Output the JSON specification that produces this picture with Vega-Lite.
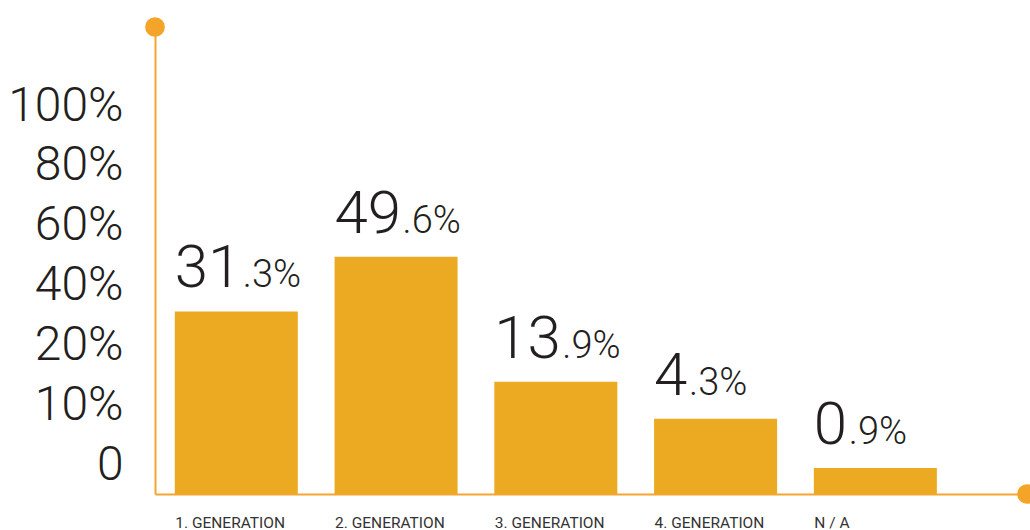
{
  "$schema": "https://vega.github.io/schema/vega-lite/v6.json",
  "width": 872,
  "height": 467,
  "autosize": {"type": "none"},
  "padding": {"left": 155, "top": 27, "right": 3, "bottom": 36},
  "background": "white",
  "config": {"view": {"stroke": null}},
  "layer": [
    {
      "data": {"name": "shares", "values": [
        {"gen": "1. GENERATION", "value": 31.3},
        {"gen": "2. GENERATION", "value": 49.6},
        {"gen": "3. GENERATION", "value": 13.9},
        {"gen": "4. GENERATION", "value": 4.3},
        {"gen": "N / A", "value": 0.9}
      ]},
      "transform": [
        {"calculate": "split(format(datum.value, '.1f'), '.')[0]", "as": "intPart"},
        {"calculate": "'.' + split(format(datum.value, '.1f'), '.')[1] + '%'", "as": "decPart"},
        {"calculate": "length(datum.intPart)", "as": "nDigits"}
      ],
      "encoding": {
        "x": {
          "field": "gen", "type": "nominal", "sort": null,
          "scale": {"paddingInner": 0.23, "paddingOuter": 0.344, "align": 0.18},
          "axis": {
            "title": null, "ticks": false, "grid": false,
            "domainColor": "#F5A531", "domainWidth": 2,
            "labelAlign": "left", "labelAngle": 0, "labelOffset": -61,
            "labelPadding": 21, "labelFont": "Roboto", "labelFontSize": 15.5,
            "labelFontWeight": 400, "labelColor": "#333333",
            "labelBound": false, "labelOverlap": false
          }
        },
        "y": {
          "field": "value", "type": "quantitative",
          "scale": {
            "type": "linear", "nice": false, "zero": false,
            "domain": [0, 1, 5, 10, 20, 40, 60, 80, 100, 126.3],
            "range": [467, 438, 382, 378, 318.2, 258.4, 198.6, 138.8, 79, 0]
          },
          "axis": {
            "title": null, "ticks": false, "grid": false,
            "values": [0, 10, 20, 40, 60, 80, 100],
            "labelExpr": "datum.value === 0 ? '0' : datum.value + '%'",
            "domainColor": "#F5A531", "domainWidth": 2,
            "labelFont": "Roboto", "labelFontWeight": 300, "labelFontSize": 48,
            "labelColor": "#231F20", "labelPadding": 32,
            "labelOverlap": false, "labelBound": false, "labelFlush": false,
            "labelOffset": {"condition": {"test": "datum.value === 0", "value": -29}, "value": 0}
          }
        }
      },
      "layer": [
        {"mark": {"type": "bar", "color": "#ECAA22"}},
        {
          "mark": {"type": "text", "align": "left", "baseline": "alphabetic", "dy": -24,
                   "font": "Roboto", "fontWeight": 300, "fontSize": 60, "color": "#231F20"},
          "encoding": {
            "x": {"field": "gen", "type": "nominal", "sort": null, "bandPosition": 0},
            "text": {"field": "intPart"}
          }
        },
        {
          "transform": [{"filter": "datum.nDigits === 2"}],
          "mark": {"type": "text", "align": "left", "baseline": "alphabetic", "dy": -24, "dx": 68,
                   "font": "Roboto", "fontWeight": 300, "fontSize": 38, "color": "#231F20"},
          "encoding": {
            "x": {"field": "gen", "type": "nominal", "sort": null, "bandPosition": 0},
            "text": {"field": "decPart"}
          }
        },
        {
          "transform": [{"filter": "datum.nDigits === 1"}],
          "mark": {"type": "text", "align": "left", "baseline": "alphabetic", "dy": -24, "dx": 35,
                   "font": "Roboto", "fontWeight": 300, "fontSize": 38, "color": "#231F20"},
          "encoding": {
            "x": {"field": "gen", "type": "nominal", "sort": null, "bandPosition": 0},
            "text": {"field": "decPart"}
          }
        }
      ]
    },
    {
      "data": {"values": [{}]},
      "mark": {"type": "circle", "color": "#F5A42A", "opacity": 1, "size": 390},
      "encoding": {"x": {"value": 0}, "y": {"value": 0}}
    },
    {
      "data": {"values": [{}]},
      "mark": {"type": "circle", "color": "#F5A42A", "opacity": 1, "size": 390},
      "encoding": {"x": {"value": {"expr": "width"}}, "y": {"value": {"expr": "height"}}}
    }
  ]
}
